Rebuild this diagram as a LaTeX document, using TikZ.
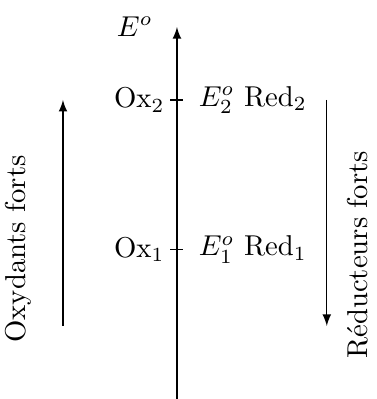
\documentclass[tikz,border=0pt]{standalone}
\usepackage{amsmath}
\usepackage{tikz}

\begin{document}
\begin{tikzpicture}[fleche/.style={-latex},trait/.style={thin},oxnoeud/.style={anchor=east,inner xsep=1.9pt}]
  \useasboundingbox (0,0) rectangle (4.614,4.884);
  % axe des potentiels
  \coordinate (bas) at (2.166,0);
  \coordinate (haut) at (2.166,4.553);
  \draw[fleche] (bas) -- (haut);
  \node[anchor=base] (Eo) at (1.65,4.443) {$E^o$};
  % couple 2
  \coordinate (g2) at (2.086,3.66);
  \coordinate (d2) at (2.246,3.66);
  \draw (g2) -- (d2);
  \node[oxnoeud] (ox2) at (g2) {Ox$_2$};
  \node[anchor=west] (red2) at (2.31,3.66) {$E_2^o$~Red$_2$};
  % couple 1
  \coordinate (g1) at (2.086,1.83);
  \coordinate (d1) at (2.246,1.83);
  \draw (g1) -- (d1);
  \node[oxnoeud] (ox1) at (g1) {Ox$_1$};
  \node[anchor=west] (red1) at (2.31,1.83) {$E_1^o$~Red$_1$};
  % sens des forces
  \coordinate (ga) at (0.771,0.894);
  \coordinate (gb) at (0.771,3.66);
  \draw[fleche,trait] (ga) -- (gb);
  \node[rotate=90] (oxf) at (0.22,1.836) {Oxydants forts};
  \coordinate (da) at (4.0,3.66);
  \coordinate (db) at (4.0,0.894);
  \draw[fleche,trait] (da) -- (db);
  \node[rotate=90] (redf) at (4.38,1.763) {R\'educteurs forts};
\end{tikzpicture}
\end{document}
